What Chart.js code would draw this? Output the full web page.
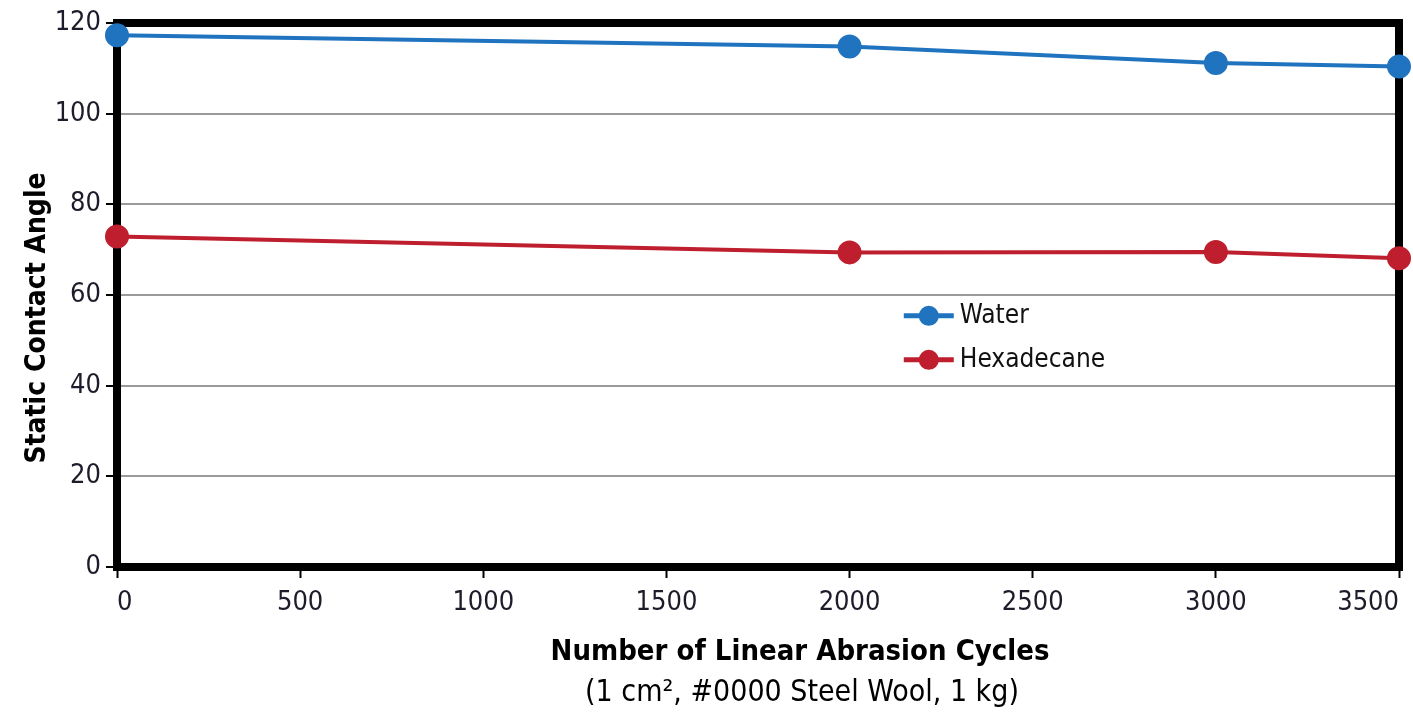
<!DOCTYPE html>
<html>
<head>
<meta charset="utf-8">
<script src="https://cdn.jsdelivr.net/npm/chart.js@4.4.1/dist/chart.umd.min.js"></script>
<style>
  html, body { margin: 0; padding: 0; background: #fff; }
  #wrap { width: 1413px; height: 717px; }
</style>
</head>
<body>
<div id="wrap"><canvas id="angleChart" width="1413" height="717"></canvas></div>
<script>
// abrasion cycles and contact angles
const cycles = [0, 2000, 3000, 3500];
const waterAngle = [117.3, 114.8, 111.2, 110.4];
const hexadecaneAngle = [72.9, 69.4, 69.5, 68.1];
const seriesNames = ['Water', 'Hexadecane'];
const xTicks = [0, 500, 1000, 1500, 2000, 2500, 3000, 3500];
const yTicks = [0, 20, 40, 60, 80, 100, 120];

const FONT = '"DejaVu Sans Condensed", "Liberation Sans", sans-serif';
const BLUE = '#1f73bf';
const RED = '#be1e2d';

// thick black frame round the plot, drawn under the points
const framePlugin = {
    id: 'frame',
    beforeDatasetsDraw(chart) {
        const a = chart.chartArea;
        const ctx = chart.ctx;
        ctx.save();
        ctx.strokeStyle = '#000';
        ctx.lineWidth = 8;
        ctx.strokeRect(a.left, a.top, a.right - a.left, a.bottom - a.top);
        ctx.restore();
    }
};

// legend inside the plot plus the axis titles
const labelsPlugin = {
    id: 'labels',
    afterDraw(chart) {
        const ctx = chart.ctx;
        const x = chart.scales.x;
        const y = chart.scales.y;
        ctx.save();

        // legend
        const lx = x.getPixelForValue(2148);
        const rows = [y.getPixelForValue(55.4), y.getPixelForValue(45.7)];
        chart.data.datasets.forEach((ds, i) => {
            const cy = rows[i];
            ctx.strokeStyle = ds.borderColor;
            ctx.lineWidth = 5;
            ctx.beginPath();
            ctx.moveTo(lx, cy);
            ctx.lineTo(lx + 50, cy);
            ctx.stroke();
            ctx.fillStyle = ds.borderColor;
            ctx.beginPath();
            ctx.arc(lx + 25, cy, 10, 0, Math.PI * 2);
            ctx.fill();
            ctx.fillStyle = '#111';
            ctx.font = '26px ' + FONT;
            ctx.textAlign = 'left';
            ctx.textBaseline = 'middle';
            ctx.fillText(ds.label, lx + 56, cy);
        });

        // x axis titles
        ctx.fillStyle = '#000';
        ctx.textAlign = 'center';
        ctx.textBaseline = 'middle';
        ctx.font = 'bold 29px ' + FONT;
        ctx.fillText('Number of Linear Abrasion Cycles', 800, 652);
        ctx.font = '30px ' + FONT;
        ctx.fillText('(1 cm\u00B2, #0000 Steel Wool, 1 kg)', 802, 693);

        // y axis title
        ctx.translate(38, 318);
        ctx.rotate(-Math.PI / 2);
        ctx.font = 'bold 28px ' + FONT;
        ctx.fillText('Static Contact Angle', 0, 0);
        ctx.restore();
    }
};

const ctx = document.getElementById('angleChart').getContext('2d');
const angleChart = new Chart(ctx, {
    type: 'line',
    data: {
        datasets: [{
            label: seriesNames[0],
            data: cycles.map((c, i) => ({ x: c, y: waterAngle[i] })),
            borderColor: BLUE,
            backgroundColor: BLUE,
            borderWidth: 4,
            pointRadius: 10,
            pointHoverRadius: 10,
            tension: 0,
            clip: false
        }, {
            label: seriesNames[1],
            data: cycles.map((c, i) => ({ x: c, y: hexadecaneAngle[i] })),
            borderColor: RED,
            backgroundColor: RED,
            borderWidth: 4,
            pointRadius: 10,
            pointHoverRadius: 10,
            tension: 0,
            clip: false
        }]
    },
    options: {
        responsive: false,
        animation: false,
        layout: { padding: { top: 23, right: 12, left: 0, bottom: 0 } },
        plugins: {
            legend: { display: false },
            tooltip: { enabled: false }
        },
        scales: {
            x: {
                type: 'linear',
                min: 0,
                max: 3500,
                afterBuildTicks: (s) => { s.ticks = xTicks.map(v => ({ value: v })); },
                afterFit: (s) => { s.height = 150; s.paddingLeft = 0; s.paddingRight = 0; },
                border: { display: false },
                grid: {
                    drawOnChartArea: false,
                    tickLength: 11,
                    tickColor: '#000',
                    tickWidth: 2
                },
                ticks: {
                    font: { family: FONT, size: 27 },
                    color: '#1c1c2a',
                    padding: 9,
                    maxRotation: 0,
                    align: 'inner',
                    callback: (v) => String(v)
                }
            },
            y: {
                min: 0,
                max: 120,
                afterBuildTicks: (s) => { s.ticks = yTicks.map(v => ({ value: v })); },
                afterFit: (s) => { s.width = 117; s.paddingTop = 0; s.paddingBottom = 0; },
                border: { display: false },
                grid: {
                    color: '#9a9a9a',
                    lineWidth: 2,
                    tickLength: 11,
                    tickColor: '#000',
                    tickWidth: 2
                },
                ticks: {
                    font: { family: FONT, size: 27 },
                    color: '#1c1c2a',
                    padding: 5,
                    callback: (v) => String(v)
                }
            }
        }
    },
    plugins: [framePlugin, labelsPlugin]
});
</script>
</body>
</html>
